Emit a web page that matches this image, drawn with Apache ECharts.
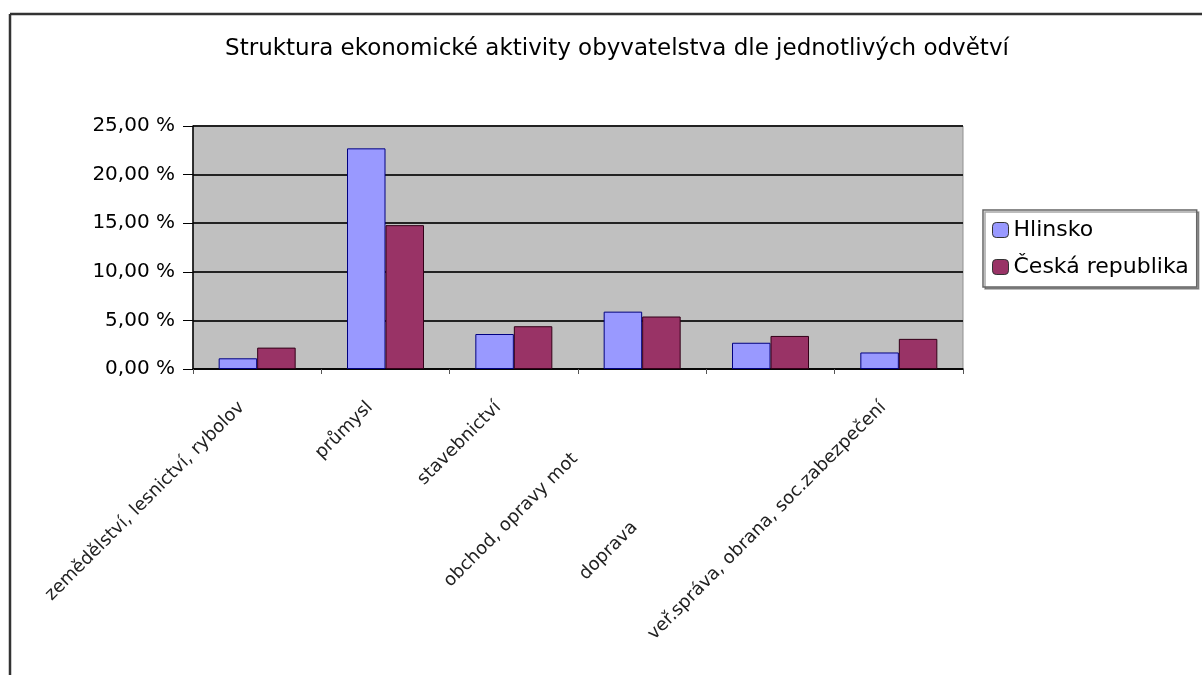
<!DOCTYPE html>
<html>
<head>
<meta charset="utf-8">
<script src="https://cdn.jsdelivr.net/npm/echarts@6/dist/echarts.min.js"></script>
<style>html,body{margin:0;padding:0;background:#fff;}#c{width:1202px;height:675px;}</style>
</head>
<body>
<div id="c"></div>
<script>
const categories = ["zemědělství, lesnictví, rybolov", "průmysl", "stavebnictví", "obchod, opravy mot", "doprava", "veř.správa, obrana, soc.zabezpečení"];
const hlinsko = [1.1, 22.7, 3.6, 5.9, 2.7, 1.7];
const ceskaRepublika = [2.2, 14.8, 4.4, 5.4, 3.4, 3.1];
const yTicks = [0, 5, 10, 15, 20, 25];
const seriesNames = ["Hlinsko", "Česká republika"];
const titleText = "Struktura ekonomické aktivity obyvatelstva dle jednotlivých odvětví";

const FONT = 'DejaVu Sans, Verdana, sans-serif';
// label shift styles (the reference staggers two labels further from the axis)
const labelStyleKey = ['n', 'n', 'n', 'm', 'f', 'n'];

const chart = echarts.init(document.getElementById('c'));
chart.setOption({
  animation: false,
  backgroundColor: '#ffffff',
  textStyle: { fontFamily: FONT },
  title: {
    text: titleText, left: 612, top: 33, textAlign: 'center',
    textStyle: { fontSize: 23, fontWeight: 'normal', color: '#000', fontFamily: FONT }
  },
  graphic: [
    { type: 'line', shape: { x1: 10, y1: 14, x2: 1202, y2: 14 }, style: { stroke: '#333', lineWidth: 2.5 } },
    { type: 'line', shape: { x1: 10, y1: 14, x2: 10, y2: 675 }, style: { stroke: '#333', lineWidth: 2.5 } }
  ],
  legend: {
    orient: 'vertical', left: 983, top: 210,
    itemWidth: 16, itemHeight: 15, itemGap: 15,
    padding: [9, 8, 9, 9],
    borderColor: '#666', borderWidth: 1.5,
    shadowColor: 'rgba(0,0,0,0.35)', shadowOffsetX: 2, shadowOffsetY: 2, shadowBlur: 0,
    backgroundColor: '#fff',
    textStyle: { fontSize: 22, color: '#000', padding: [0, 0, 0, 0], fontFamily: FONT },
    data: seriesNames.map(n => ({ name: n, itemStyle: { borderColor: '#333', borderWidth: 1 } }))
  },
  grid: { left: 193, right: 239, top: 126, bottom: 306, show: true, backgroundColor: '#c0c0c0', borderColor: '#909090', borderWidth: 1 },
  xAxis: {
    type: 'category', data: categories,
    axisLine: { lineStyle: { color: '#000', width: 1.5 } },
    axisTick: { show: true, length: 5, lineStyle: { color: '#555' } },
    axisLabel: {
      rotate: 45, fontSize: 18, color: '#222', margin: 20, interval: 0,
      formatter: (v, i) => '{' + labelStyleKey[i] + '|' + v + '}',
      rich: {
        n: { fontSize: 18, color: '#222', fontFamily: FONT, padding: [0, 22, 0, 0] },
        m: { fontSize: 18, color: '#222', fontFamily: FONT, padding: [0, 95, 0, 0] },
        f: { fontSize: 18, color: '#222', fontFamily: FONT, padding: [0, 192, 0, 0] }
      }
    }
  },
  yAxis: {
    type: 'value', min: 0, max: 25, interval: 5,
    axisLine: { show: true, lineStyle: { color: '#000', width: 1.5 } },
    axisTick: { show: true, length: 10, lineStyle: { color: '#000' } },
    splitLine: { lineStyle: { color: '#222', width: 2 } },
    axisLabel: {
      fontSize: 20, color: '#000', margin: 18, fontFamily: FONT,
      formatter: v => yTicks.includes(v) ? v.toFixed(2).replace('.', ',') + ' %' : ''
    }
  },
  series: [
    { name: seriesNames[0], type: 'bar', data: hlinsko, barGap: '0%', barCategoryGap: '40%',
      itemStyle: { color: '#9999ff', borderColor: '#000080', borderWidth: 1 } },
    { name: seriesNames[1], type: 'bar', data: ceskaRepublika,
      itemStyle: { color: '#993366', borderColor: '#330018', borderWidth: 1 } }
  ]
});
</script>
</body>
</html>
